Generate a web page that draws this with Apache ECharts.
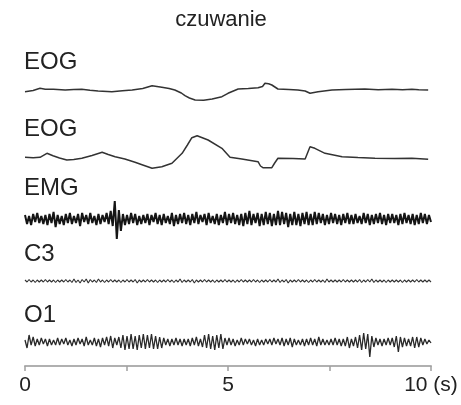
<!DOCTYPE html>
<html>
<head>
<meta charset="utf-8">
<script src="https://cdn.jsdelivr.net/npm/echarts@6/dist/echarts.min.js"></script>
<style>html,body{margin:0;padding:0;background:#fff}#chart{width:461px;height:405px}</style>
</head>
<body>
<div id="chart"></div>
<script>
// channel names, top to bottom
var channels = ['EOG', 'EOG', 'EMG', 'C3', 'O1'];
var xTicks = [0, 5, 10];

// EOG traces: read point by point (time in s, amplitude)
var eog1T = [0,0.2,0.37,0.5,0.7,0.99,1.2,1.4,1.6,1.8,2.14,2.4,2.64,2.9,3.13,3.37,3.55,3.69,3.85,3.94,4.05,4.19,4.4,4.61,4.85,5.0,5.25,5.5,5.74,5.85,5.91,6.0,6.08,6.23,6.5,6.72,6.9,7.02,7.22,7.56,7.9,8.37,8.7,9.04,9.3,9.53,9.7,9.93];
var eog1V = [-1.7,-0.5,1.7,0.8,0.7,0,0.6,0.7,-0.3,-1,-1.7,-0.8,0,1.5,4.3,2.7,1.5,0,-3,-5.7,-8,-10,-10.2,-9,-6.7,-3.3,1,1.5,2.3,3.5,6.7,6.2,5,1,0.5,0,-1,-3.3,-1.7,0,0.4,1,0.3,0.7,0.2,0.7,0.3,0];
var eog2T = [0,0.2,0.37,0.54,0.69,0.85,1.03,1.2,1.4,1.65,1.9,2.05,2.22,2.46,2.71,2.9,3.13,3.37,3.62,3.87,4.0,4.11,4.24,4.51,4.85,5.05,5.34,5.74,5.8,5.86,6.08,6.15,6.23,6.6,6.9,7.02,7.14,7.39,7.81,8.2,8.62,9.1,9.53,9.93];
var eog2V = [0.7,0.3,0.7,4.7,2.3,0,-2,-1.5,-0.3,2.5,5.7,3.5,1.3,-1,-4.3,-7,-10.3,-8.7,-5.3,4.7,13,20.3,22.3,18,9.7,0.7,-1,-3.7,-8,-9.7,-9.7,-5,-0.3,-0.5,-1,11.3,9.7,4.7,1.3,0.5,-0.3,-0.6,-0.3,-1.3];

// evenly sampled traces over 0..10 s
var emgV = [
  4,-5,3,-6,5,-3,6,-4,3,-5,4,-6,5,-4,7,-8,4,-5,3,-6,
  5,-4,6,-5,3,-4,5,-7,6,-3,4,-5,6,-4,3,-6,5,-5,4,-3,
  6,-5,8,-7,18,-20,9,-12,5,-6,4,-5,6,-4,5,-6,3,-5,4,-4,
  5,-6,4,-3,6,-5,4,-6,5,-4,3,-5,6,-7,4,-5,5,-4,6,-5,
  4,-6,5,-4,7,-5,4,-3,5,-6,6,-4,3,-5,5,-6,4,-4,7,-6,
  5,-4,6,-5,4,-6,5,-7,6,-5,8,-6,5,-4,6,-7,5,-6,7,-5,
  6,-7,5,-6,8,-6,7,-5,6,-8,5,-6,7,-6,5,-7,6,-5,7,-6,
  5,-6,7,-5,6,-4,5,-6,4,-5,6,-4,5,-5,4,-6,5,-4,6,-5,
  4,-5,5,-4,3,-5,6,-4,5,-6,4,-5,5,-4,6,-5,4,-6,5,-4,
  5,-4,4,-6,5,-5,6,-4,4,-5,5,-6,4,-5,6,-4,5,-5,4,-3
];
var c3V = [
  1,-1,1.5,-1,1,-1.5,1,-1,1,-1,1.5,-1,1,-1,1,-1.5,1,-1,1,-1,
  1.5,-1,1,-1.5,2,-1.5,1,-2,1.5,-1,2,-2,1.5,-1,1,-1.5,2,-1,1,-1.5,
  1,-1,1.5,-1,1,-1,1,-1.5,1,-1,1.5,-1,1,-1,1.5,-2,1,-1,1,-1,
  1.5,-1,1,-1,1,-1.5,1,-1,1,-1,1.5,-1,1,-1.5,1,-1,2,-1.5,1,-1,
  1,-1,1.5,-2,1,-1,1,-1,1.5,-1,1,-1,1,-1.5,1,-1,1,-1,1.5,-1,
  1,-1,1,-1.5,1,-1,1.5,-1,1,-1,1,-1,1.5,-1,1,-1.5,1,-1,1,-1,
  1.5,-1,1,-1,2,-1.5,1,-1,1.5,-2,1,-1,1,-1,1.5,-1,1,-1,1,-1.5,
  1,-1,1.5,-1,1,-1,1,-1.5,2,-1,1,-1,1,-1,1,-1,1.5,-1,1,-1,
  1,-1,1,-1,1.5,-1.5,1,-1,1.5,-1,2,-1.5,1,-1,1,-1,1,-1.5,1,-1,
  1,-1,1,-1,1,-1.5,1,-1,1,-1,1,-1,1.5,-1,1,-1,1,-1,1,-1
];
var o1V = [
  2,-6,7,-3,5,-4,3,-3,4,-2,3,-4,3,-3,2,-3,4,-3,3,-2,
  4,-3,2,-4,3,-3,4,-2,3,-4,5,-3,2,-3,4,-4,3,-5,4,-3,
  5,-4,6,-6,4,-3,5,-6,7,-8,6,-7,8,-7,6,-8,7,-6,8,-7,
  7,-6,8,-7,6,-7,5,-6,4,-3,3,-4,3,-3,4,-3,3,-4,3,-3,
  3,-4,4,-3,5,-4,3,-5,7,-6,8,-7,6,-8,7,-6,8,-7,4,-3,
  4,-3,3,-4,2,-3,4,-3,3,-2,3,-3,2,-4,3,-3,2,-3,3,-2,
  3,-3,4,-2,3,-3,4,-4,3,-3,4,-5,3,-3,2,-3,3,-4,3,-3,
  4,-3,3,-4,5,-3,3,-3,2,-3,3,-3,4,-3,3,-4,3,-4,5,-6,
  3,-4,5,-6,7,-8,9,-7,8,-15,6,-5,4,-3,3,-4,3,-3,4,-3,
  4,-5,6,-10,5,-5,4,-4,3,-4,5,-6,5,-5,4,-3,3,-2,2,-1
];

function pairs(ts, vs) { return ts.map(function (t, i) { return [t, vs[i]]; }); }
function even(vs) { var dt = 10 / (vs.length - 1); return vs.map(function (v, i) { return [i * dt, v]; }); }

var traces = [pairs(eog1T, eog1V), pairs(eog2T, eog2V), even(emgV), even(c3V), even(o1V)];
var widths = [1.5, 1.5, 2, 1.1, 1.3];
var colors = ['#333', '#333', '#151515', '#333', '#2a2a2a'];

// one strip per channel, plus a thin one for the time axis
var gridTops = [75, 134, 197, 276, 326, 365];
var gridHeights = [30, 40, 44, 10, 32, 1];
var yRanges = [[-15, 15], [-16, 24], [-22, 22], [-5, 5], [-16, 16], [0, 1]];
var labelY = [62, 129, 188, 254, 315];

var font = '"Liberation Sans", Arial, sans-serif';
var grid = [], xAxis = [], yAxis = [], series = [], graphic = [];

gridTops.forEach(function (top, i) {
  grid.push({ left: 25, width: 406, top: top, height: gridHeights[i], outerBoundsMode: 'none' });
  var last = i === gridTops.length - 1;
  xAxis.push({
    gridIndex: i, type: 'value', min: 0, max: 10, interval: 2.5, show: last,
    axisLine: { show: true, lineStyle: { color: '#b0b0b0', width: 2 } },
    axisTick: { show: true, length: 5, lineStyle: { color: '#a0a0a0', width: 1.5 } },
    splitLine: { show: false },
    axisLabel: {
      show: true, margin: 9, fontSize: 21, color: '#222', fontFamily: font,
      formatter: function (v) {
        if (xTicks.indexOf(v) < 0) return '';
        return v === 10 ? '10 (s)' : String(v);
      }
    }
  });
  yAxis.push({ gridIndex: i, type: 'value', min: yRanges[i][0], max: yRanges[i][1], show: false, splitLine: { show: false } });
});

traces.forEach(function (d, i) {
  series.push({
    type: 'line', xAxisIndex: i, yAxisIndex: i, data: d,
    symbol: 'none', showSymbol: false, sampling: null, clip: false,
    lineStyle: { color: colors[i], width: widths[i] }
  });
  graphic.push({
    type: 'text', x: 24, y: labelY[i],
    style: { text: channels[i], fill: '#222', font: '24px ' + font, align: 'left', verticalAlign: 'middle' }
  });
});

graphic.push({
  type: 'text', x: 221, y: 20,
  style: { text: 'czuwanie', fill: '#222', font: '22px ' + font, align: 'center', verticalAlign: 'middle' }
});

var myChart = echarts.init(document.getElementById('chart'));
myChart.setOption({
  animation: false,
  backgroundColor: '#fff',
  grid: grid,
  xAxis: xAxis,
  yAxis: yAxis,
  series: series,
  graphic: graphic
});
</script>
</body>
</html>
